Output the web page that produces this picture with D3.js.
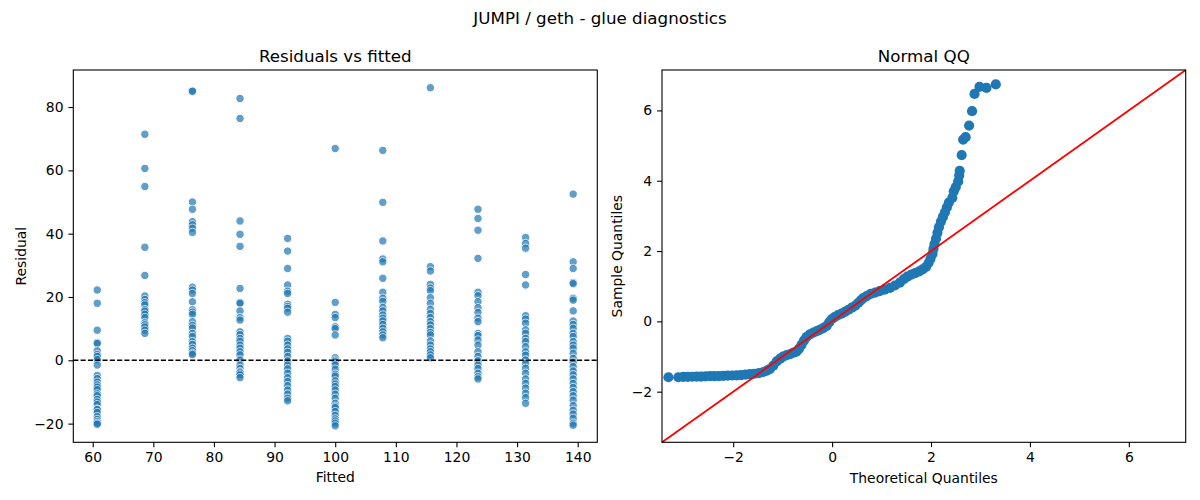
<!DOCTYPE html>
<html>
<head>
<meta charset="utf-8" />
<script src="https://d3js.org/d3.v7.min.js"></script>
<style>
  body {
    margin: 0;
    background: #fff;
  }
  svg text {
    font-family: "DejaVu Sans", sans-serif;
    fill: #000;
  }
  .axis path {
    display: none;
  }
  .axis line {
    stroke: #000;
    stroke-width: 1.1;
  }
</style>
</head>
<body>
<div id="chart"></div>
<script>

// fitted levels (x positions of the columns in the left panel)
var fittedLevels = [60.75, 68.6, 76.45, 84.3, 92.15, 100.0, 107.85, 115.7, 123.55, 131.4, 139.25];

// residuals
var res61 = [22.2, 18.0, 9.5, 5.6, 5.3, 3.0, 1.8, 1.2, 0.2, -1.5, -4.8, -5.8, -6.9, -7.8, -8.5, -9.3, -10.6, -11.2, -12.4, -13.2, -14.0, -15.4, -15.6, -16.5, -17.8, -18.7, -19.4, -19.9, -20.2];
var res69 = [71.4, 60.6, 54.9, 35.7, 26.8, 20.3, 19.2, 18.2, 17.5, 16.0, 15.5, 14.5, 13.5, 11.8, 11.2, 10.5, 9.5, 8.5];
var res76 = [85.0, 85.0, 50.0, 47.7, 43.8, 42.8, 41.7, 40.4, 23.1, 22.2, 21.1, 18.5, 16.0, 15.2, 14.5, 12.2, 11.0, 10.2, 8.5, 7.5, 5.9, 5.0, 3.8, 3.0, 2.2, 1.8];
var res84 = [82.7, 76.4, 44.0, 39.8, 36.0, 22.7, 18.3, 18.0, 15.6, 13.5, 12.7, 9.0, 8.1, 6.9, 6.0, 4.8, 3.8, 2.7, 1.7, 0.1, -1.5, -2.6, -3.6, -4.0, -4.6, -5.5];
var res92 = [38.5, 34.5, 29.0, 23.8, 21.8, 21.1, 17.7, 17.0, 16.4, 15.2, 6.9, 6.0, 4.8, 3.6, 2.5, 1.2, -0.2, -1.5, -2.7, -4.1, -5.5, -6.7, -8.0, -9.4, -10.7, -12.0, -12.8];
var res100 = [66.9, 18.3, 14.5, 13.5, 10.6, 10.0, 8.0, 0.8, 0.0, -0.5, -1.5, -2.8, -4.4, -5.0, -6.5, -7.5, -8.3, -9.4, -10.7, -12.0, -13.6, -14.5, -15.0, -16.2, -17.4, -18.5, -19.2, -19.9, -20.7];
var res108 = [66.3, 49.9, 37.7, 32.0, 31.1, 25.9, 21.5, 19.6, 18.6, 16.7, 15.6, 14.3, 13.3, 12.4, 11.3, 10.1, 9.0, 8.0, 7.1];
var res116 = [86.1, 29.6, 28.2, 24.0, 22.8, 22.0, 19.8, 18.0, 16.1, 14.8, 13.5, 12.2, 11.2, 10.0, 8.8, 8.0, 6.1, 4.8, 3.6, 2.7, 1.7, 0.8];
var res124 = [47.7, 44.8, 41.1, 32.2, 21.5, 20.4, 18.5, 16.6, 15.1, 13.3, 12.2, 8.5, 7.8, 6.4, 4.8, 2.7, 1.2, -0.2, -1.5, -2.6, -4.1, -5.2, -5.9];
var res131 = [38.8, 36.9, 35.4, 27.1, 23.8, 14.1, 13.0, 11.7, 9.6, 8.5, 6.9, 5.9, 4.3, 2.7, 1.6, 0.1, -1.0, -2.5, -4.1, -5.9, -7.3, -8.8, -10.4, -11.8, -13.6];
var res139 = [52.5, 31.1, 29.0, 24.6, 24.2, 19.6, 19.0, 15.6, 12.4, 11.3, 10.1, 8.5, 7.5, 5.9, 4.8, 3.8, 2.2, 0.6, -0.6, -2.0, -3.4, -4.6, -5.9, -7.3, -8.6, -9.9, -11.2, -12.6, -14.3, -15.8, -17.0, -18.3, -19.9, -20.5];
var residualGroups = [res61, res69, res76, res84, res92, res100, res108, res116, res124, res131, res139];

// normal QQ points (theoretical, sample)
var qqTheoretical = [-3.31, -3.11, -3.01, -2.92, -2.83, -2.74, -2.65, -2.56, -2.47, -2.38, -2.29, -2.20, -2.11, -2.02, -1.93, -1.84, -1.75, -1.66, -1.57, -1.48, -1.39, -1.32, -1.26, -1.19, -1.12, -1.05, -0.99, -0.92, -0.85, -0.78, -0.72, -0.67, -0.62, -0.57, -0.52, -0.45, -0.38, -0.31, -0.25, -0.18, -0.11, -0.06, -0.01, 0.05, 0.12, 0.19, 0.26, 0.33, 0.40, 0.47, 0.53, 0.58, 0.63, 0.70, 0.78, 0.87, 0.96, 1.06, 1.17, 1.27, 1.37, 1.45, 1.52, 1.60, 1.68, 1.76, 1.83, 1.90, 1.95, 1.99, 2.03, 2.05, 2.07, 2.10, 2.13, 2.16, 2.20, 2.24, 2.28, 2.32, 2.36, 2.43, 2.46, 2.50, 2.55, 2.57, 2.58, 2.62, 2.65, 2.70, 2.77, 2.83, 2.88, 2.98, 3.12, 3.31];
var qqSample = [-1.59, -1.59, -1.58, -1.58, -1.575, -1.57, -1.57, -1.565, -1.56, -1.56, -1.555, -1.55, -1.545, -1.54, -1.535, -1.53, -1.515, -1.50, -1.49, -1.47, -1.44, -1.40, -1.36, -1.26, -1.14, -1.06, -1.00, -0.96, -0.93, -0.89, -0.86, -0.78, -0.67, -0.55, -0.45, -0.37, -0.32, -0.28, -0.24, -0.19, -0.13, -0.03, 0.06, 0.12, 0.18, 0.22, 0.27, 0.33, 0.39, 0.45, 0.53, 0.60, 0.66, 0.72, 0.78, 0.82, 0.86, 0.90, 0.95, 1.02, 1.10, 1.20, 1.27, 1.33, 1.37, 1.42, 1.48, 1.55, 1.66, 1.78, 1.92, 2.06, 2.20, 2.35, 2.52, 2.68, 2.84, 2.97, 3.10, 3.24, 3.38, 3.51, 3.70, 3.82, 3.98, 4.15, 4.28, 4.73, 5.17, 5.24, 5.57, 5.98, 6.47, 6.67, 6.64, 6.74];

// ticks
var fittedTicks = [60, 70, 80, 90, 100, 110, 120, 130, 140];
var residTicks = [-20, 0, 20, 40, 60, 80];
var qqTicks = [-2, 0, 2, 4, 6];

var W = 1200, H = 500;
var left = {x0: 73.3, x1: 597.3, y0: 70, y1: 442.3};
var right = {x0: 662, x1: 1185.7, y0: 70, y1: 442.3};
var tickLen = 4.9, tickPad = 4.9;

var svg = d3.select("#chart")
  .append("svg")
  .attr("width", W)
  .attr("height", H);

svg.append("text")
  .attr("x", 600)
  .attr("y", 24)
  .attr("text-anchor", "middle")
  .style("font-size", "16.7px")
  .text("JUMPI / geth - glue diagnostics");

// ---------- left panel: residuals vs fitted ----------
var xL = d3.scaleLinear().domain([56.8, 143.23]).range([left.x0, left.x1]);
var yL = d3.scaleLinear().domain([-25.9, 91.7]).range([left.y1, left.y0]);

var pts = [];
residualGroups.forEach(function (g, i) {
  g.forEach(function (r) { pts.push({f: fittedLevels[i], r: r}); });
});

var gL = svg.append("g");
gL.selectAll("circle")
  .data(pts)
  .enter()
  .append("circle")
  .attr("cx", function (d) { return xL(d.f); })
  .attr("cy", function (d) { return yL(d.r); })
  .attr("r", 4.2)
  .style("fill", "#1f77b4")
  .style("stroke", "#fff")
  .style("stroke-width", 1)
  .style("opacity", 0.7);

gL.append("line")
  .attr("x1", left.x0).attr("x2", left.x1)
  .attr("y1", yL(0)).attr("y2", yL(0))
  .style("stroke", "#000")
  .style("stroke-width", 1.39)
  .style("stroke-dasharray", "5.1,2.2");

svg.append("g")
  .attr("class", "axis")
  .attr("transform", "translate(0," + left.y1 + ")")
  .call(d3.axisBottom(xL).tickValues(fittedTicks).tickSize(tickLen).tickPadding(tickPad))
  .selectAll("text")
  .style("font-size", "13.9px");

svg.append("g")
  .attr("class", "axis")
  .attr("transform", "translate(" + left.x0 + ",0)")
  .call(d3.axisLeft(yL).tickValues(residTicks).tickSize(tickLen).tickPadding(tickPad))
  .selectAll("text")
  .style("font-size", "13.9px");

svg.append("rect")
  .attr("x", left.x0).attr("y", left.y0)
  .attr("width", left.x1 - left.x0).attr("height", left.y1 - left.y0)
  .style("fill", "none").style("stroke", "#000").style("stroke-width", 1.1);

svg.append("text")
  .attr("x", (left.x0 + left.x1) / 2).attr("y", 62)
  .attr("text-anchor", "middle")
  .style("font-size", "16.7px")
  .text("Residuals vs fitted");

svg.append("text")
  .attr("x", (left.x0 + left.x1) / 2).attr("y", 482)
  .attr("text-anchor", "middle")
  .style("font-size", "13.9px")
  .text("Fitted");

svg.append("text")
  .attr("transform", "translate(26," + (left.y0 + left.y1) / 2 + ") rotate(-90)")
  .attr("text-anchor", "middle")
  .style("font-size", "13.9px")
  .text("Residual");

// ---------- right panel: normal QQ ----------
var qDom = [-3.44, 7.15];
var xQ = d3.scaleLinear().domain(qDom).range([right.x0, right.x1]);
var yQ = d3.scaleLinear().domain(qDom).range([right.y1, right.y0]);

var gQ = svg.append("g");
gQ.selectAll("circle")
  .data(qqTheoretical)
  .enter()
  .append("circle")
  .attr("cx", function (d) { return xQ(d); })
  .attr("cy", function (d, i) { return yQ(qqSample[i]); })
  .attr("r", 5.1)
  .style("fill", "#1f77b4");

gQ.append("line")
  .attr("x1", xQ(qDom[0])).attr("y1", yQ(qDom[0]))
  .attr("x2", xQ(qDom[1])).attr("y2", yQ(qDom[1]))
  .style("stroke", "red")
  .style("stroke-width", 1.8);

svg.append("g")
  .attr("class", "axis")
  .attr("transform", "translate(0," + right.y1 + ")")
  .call(d3.axisBottom(xQ).tickValues(qqTicks).tickSize(tickLen).tickPadding(tickPad))
  .selectAll("text")
  .style("font-size", "13.9px");

svg.append("g")
  .attr("class", "axis")
  .attr("transform", "translate(" + right.x0 + ",0)")
  .call(d3.axisLeft(yQ).tickValues(qqTicks).tickSize(tickLen).tickPadding(tickPad))
  .selectAll("text")
  .style("font-size", "13.9px");

svg.append("rect")
  .attr("x", right.x0).attr("y", right.y0)
  .attr("width", right.x1 - right.x0).attr("height", right.y1 - right.y0)
  .style("fill", "none").style("stroke", "#000").style("stroke-width", 1.1);

svg.append("text")
  .attr("x", (right.x0 + right.x1) / 2).attr("y", 62)
  .attr("text-anchor", "middle")
  .style("font-size", "16.7px")
  .text("Normal QQ");

svg.append("text")
  .attr("x", (right.x0 + right.x1) / 2).attr("y", 483)
  .attr("text-anchor", "middle")
  .style("font-size", "13.9px")
  .text("Theoretical Quantiles");

svg.append("text")
  .attr("transform", "translate(622," + (right.y0 + right.y1) / 2 + ") rotate(-90)")
  .attr("text-anchor", "middle")
  .style("font-size", "13.9px")
  .text("Sample Quantiles");

</script>
</body>
</html>
